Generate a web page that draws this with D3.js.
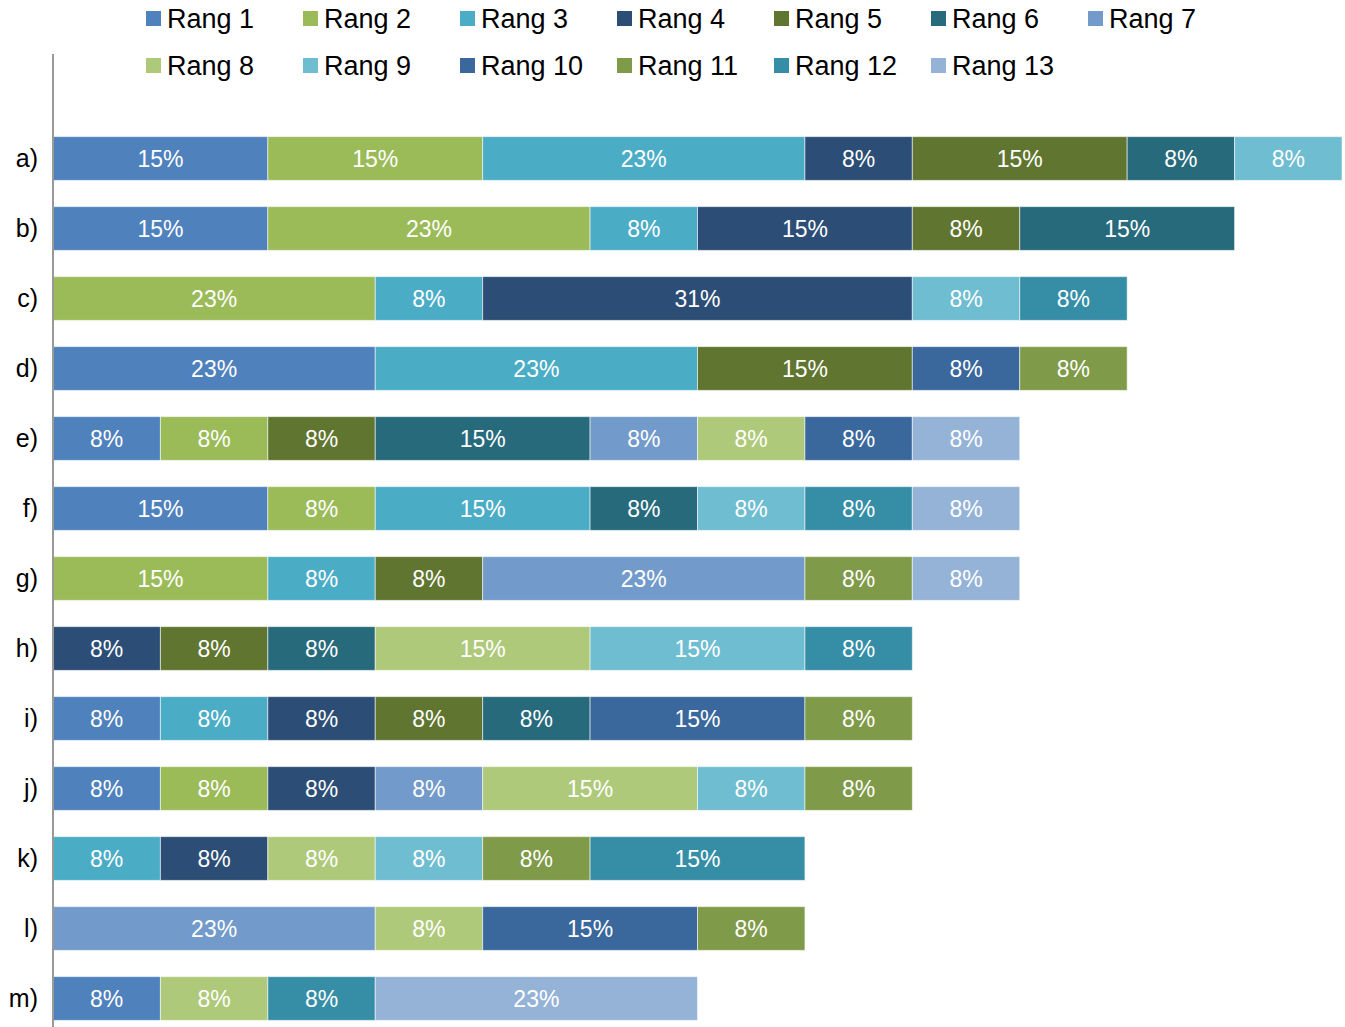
<!DOCTYPE html>
<html>
<head>
<meta charset="utf-8">
<script src="https://cdn.jsdelivr.net/npm/d3@7"></script>
<style>
  html, body { margin: 0; padding: 0; background: #fff; }
  svg { display: block; font-family: "Liberation Sans", Arial, sans-serif; }
</style>
</head>
<body>
<svg id="chart" width="1345" height="1027"></svg>
<script>
// Categories (top to bottom)
const categories = ["a)", "b)", "c)", "d)", "e)", "f)", "g)", "h)", "i)", "j)", "k)", "l)", "m)"];
// Series names
const seriesNames = ["Rang 1", "Rang 2", "Rang 3", "Rang 4", "Rang 5", "Rang 6", "Rang 7",
                     "Rang 8", "Rang 9", "Rang 10", "Rang 11", "Rang 12", "Rang 13"];
const seriesColors = ["#4F81BD", "#9BBB59", "#4BACC6", "#2C4D75", "#5F7530", "#276A7C", "#729ACA",
                      "#AFC97A", "#6FBDD1", "#3A679C", "#7F9A48", "#358EA6", "#95B3D7"];
// Series values (%), one per category a) .. m)
const rang1  = [15.4, 15.4, 0,    23.1, 7.7,  15.4, 0,    0,    7.7,  7.7,  0,    0,    7.7];
const rang2  = [15.4, 23.1, 23.1, 0,    7.7,  7.7,  15.4, 0,    0,    7.7,  0,    0,    0];
const rang3  = [23.1, 7.7,  7.7,  23.1, 0,    15.4, 7.7,  0,    7.7,  0,    7.7,  0,    0];
const rang4  = [7.7,  15.4, 30.8, 0,    0,    0,    0,    7.7,  7.7,  7.7,  7.7,  0,    0];
const rang5  = [15.4, 7.7,  0,    15.4, 7.7,  0,    7.7,  7.7,  7.7,  0,    0,    0,    0];
const rang6  = [7.7,  15.4, 0,    0,    15.4, 7.7,  0,    7.7,  7.7,  0,    0,    0,    0];
const rang7  = [0,    0,    0,    0,    7.7,  0,    23.1, 0,    0,    7.7,  0,    23.1, 0];
const rang8  = [0,    0,    0,    0,    7.7,  0,    0,    15.4, 0,    15.4, 7.7,  7.7,  7.7];
const rang9  = [7.7,  0,    7.7,  0,    0,    7.7,  0,    15.4, 0,    7.7,  7.7,  0,    0];
const rang10 = [0,    0,    0,    7.7,  7.7,  0,    0,    0,    15.4, 0,    0,    15.4, 0];
const rang11 = [0,    0,    0,    7.7,  0,    0,    7.7,  0,    7.7,  7.7,  7.7,  7.7,  0];
const rang12 = [0,    0,    7.7,  0,    0,    7.7,  0,    7.7,  0,    0,    15.4, 0,    7.7];
const rang13 = [0,    0,    0,    0,    7.7,  7.7,  7.7,  0,    0,    0,    0,    0,    23.1];
const seriesValues = [rang1, rang2, rang3, rang4, rang5, rang6, rang7, rang8, rang9, rang10, rang11, rang12, rang13];

const svg = d3.select("#chart");

// Build table for stacking
const table = categories.map((c, i) => {
  const row = { cat: c };
  seriesNames.forEach((s, j) => { row[s] = seriesValues[j][i]; });
  return row;
});
const stacked = d3.stack().keys(seriesNames)(table);

const maxTotal = d3.max(table, r => d3.sum(seriesNames, s => r[s]));
const x = d3.scaleLinear().domain([0, maxTotal]).range([53, 1342]);
const y = d3.scaleBand().domain(categories).range([123.5, 1033.5]).paddingInner(0.375).paddingOuter(0.1875);
const color = d3.scaleOrdinal().domain(seriesNames).range(seriesColors);
const fmt = v => d3.format(".0f")(v) + "%";

// Bars
const layers = svg.append("g").selectAll("g")
  .data(stacked).join("g")
  .attr("fill", d => color(d.key));

layers.selectAll("rect")
  .data(d => d.filter(p => p[1] - p[0] > 0))
  .join("rect")
  .attr("x", p => x(p[0]))
  .attr("y", p => y(p.data.cat))
  .attr("width", p => x(p[1]) - x(p[0]))
  .attr("height", y.bandwidth())
  .attr("stroke", "rgba(255,255,255,0.55)")
  .attr("stroke-width", 1);

// Segment labels
layers.selectAll("text")
  .data(d => d.filter(p => p[1] - p[0] > 0))
  .join("text")
  .attr("x", p => (x(p[0]) + x(p[1])) / 2)
  .attr("y", p => y(p.data.cat) + y.bandwidth() / 2)
  .attr("dy", "0.36em")
  .attr("text-anchor", "middle")
  .attr("fill", "#fff")
  .style("font-size", "23px")
  .text(p => fmt(p[1] - p[0]));

// Vertical axis
const yAxis = d3.axisLeft(y).tickSize(0).tickPadding(15);
const ax = svg.append("g").attr("transform", "translate(53,0)").call(yAxis);
ax.select(".domain").remove();
ax.selectAll("text").style("font-size", "25px").attr("fill", "#000")
  .style("font-family", '"Liberation Sans", Arial, sans-serif');
svg.append("line")
  .attr("x1", 53).attr("x2", 53).attr("y1", 54).attr("y2", 1034)
  .attr("stroke", "#999").attr("stroke-width", 2);

// Legend
const legend = svg.append("g");
seriesNames.forEach((s, i) => {
  const col = i < 7 ? i : i - 7;
  const row = i < 7 ? 0 : 1;
  const lx = 146 + col * 157;
  const ly = 11 + row * 47;
  const g = legend.append("g").attr("transform", `translate(${lx},${ly})`);
  g.append("rect").attr("width", 15).attr("height", 15).attr("fill", color(s));
  g.append("text").attr("x", 21).attr("y", 17).style("font-size", "27px")
    .attr("fill", "#000").text(s);
});
</script>
</body>
</html>
